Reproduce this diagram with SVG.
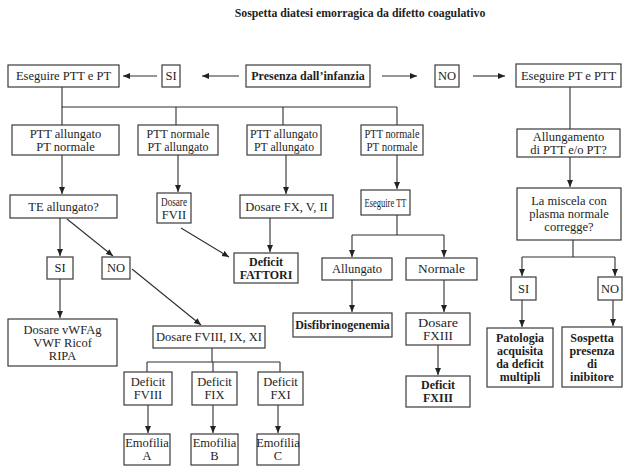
<svg xmlns="http://www.w3.org/2000/svg" width="623" height="468" viewBox="0 0 623 468" font-family="'Liberation Serif', Tinos, 'DejaVu Serif', serif">
<style>
.box{fill:#fff;stroke:#3a3a3a;stroke-width:1.2}
.t{font-family:'Liberation Serif', Tinos, 'DejaVu Serif', serif;font-size:12.5px;text-anchor:middle;fill:#1e1e1e}
.b{font-weight:bold;font-size:12px}
.ln{fill:none;stroke:#2e2e2e;stroke-width:1.1}
.ar{fill:none;stroke:#2e2e2e;stroke-width:1.1;marker-end:url(#ah)}
</style>
<defs>
<marker id="ah" markerUnits="userSpaceOnUse" markerWidth="8" markerHeight="7" refX="7" refY="3" orient="auto">
<path d="M0,0 L7,3 L0,6 z" fill="#222"/>
</marker>
</defs>
<rect width="623" height="468" fill="#fff"/>
<text x="360" y="17" class="t b" style="font-size:11.8px">Sospetta diatesi emorragica da difetto coagulativo</text>

<g id="connectors">
<line class="ar" x1="157" y1="76" x2="123" y2="76"/>
<line class="ar" x1="239" y1="76" x2="202" y2="76"/>
<line class="ar" x1="382" y1="76" x2="417" y2="76"/>
<line class="ar" x1="473" y1="76" x2="505" y2="76"/>
<polyline class="ln" points="62,87 62,107 397,107"/>
<line class="ln" x1="62" y1="107" x2="62" y2="125"/>
<line class="ln" x1="176" y1="107" x2="176" y2="125"/>
<line class="ln" x1="283" y1="107" x2="283" y2="125"/>
<line class="ln" x1="397" y1="107" x2="397" y2="125"/>
<line class="ln" x1="570" y1="87" x2="570" y2="129"/>
<line class="ar" x1="62" y1="155" x2="62" y2="194"/>
<line class="ar" x1="178" y1="155" x2="178" y2="192"/>
<line class="ar" x1="286" y1="155" x2="286" y2="194"/>
<line class="ar" x1="397" y1="155" x2="397" y2="189"/>
<line class="ar" x1="570" y1="157" x2="570" y2="187"/>
<line class="ar" x1="60" y1="218" x2="60" y2="256"/>
<line class="ar" x1="67" y1="219" x2="113" y2="256"/>
<line class="ar" x1="60" y1="279" x2="60" y2="318"/>
<line class="ar" x1="132" y1="269" x2="201" y2="325"/>
<line class="ar" x1="181" y1="228" x2="229" y2="257"/>
<line class="ar" x1="270" y1="218" x2="270" y2="252"/>
<polyline class="ln" points="397,215 397,235"/>
<line class="ln" x1="352" y1="235" x2="444" y2="235"/>
<line class="ar" x1="352" y1="235" x2="352" y2="257"/>
<line class="ar" x1="444" y1="235" x2="444" y2="257"/>
<line class="ar" x1="352" y1="280" x2="352" y2="312"/>
<line class="ar" x1="444" y1="280" x2="444" y2="312"/>
<line class="ar" x1="438" y1="345" x2="438" y2="375"/>
<line class="ln" x1="573" y1="240" x2="573" y2="257"/>
<line class="ln" x1="522" y1="257" x2="615" y2="257"/>
<line class="ar" x1="522" y1="257" x2="522" y2="276"/>
<line class="ar" x1="615" y1="257" x2="615" y2="276"/>
<line class="ar" x1="522" y1="300" x2="522" y2="327"/>
<line class="ar" x1="613" y1="300" x2="613" y2="326"/>
<line class="ln" x1="212" y1="348" x2="212" y2="362"/>
<line class="ln" x1="147" y1="362" x2="280" y2="362"/>
<line class="ln" x1="147" y1="362" x2="147" y2="372"/>
<line class="ln" x1="213" y1="362" x2="213" y2="372"/>
<line class="ln" x1="280" y1="362" x2="280" y2="372"/>
<line class="ar" x1="148" y1="405" x2="148" y2="433"/>
<line class="ar" x1="213" y1="405" x2="213" y2="433"/>
<line class="ar" x1="278" y1="405" x2="278" y2="433"/>
</g>

<g id="n_ptt_pt"><rect class="box" x="8" y="65" width="111" height="22"/><text class="t" x="63.5" y="80.3">Eseguire PTT e PT</text></g>
<g id="n_si1"><rect class="box" x="162" y="65" width="18" height="22"/><text class="t" x="171" y="80.3">SI</text></g>
<g id="n_presenza"><rect class="box" x="246" y="65" width="124" height="22"/><text class="t b" x="308" y="80.3">Presenza dall’infanzia</text></g>
<g id="n_no1"><rect class="box" x="435" y="65" width="24" height="22"/><text class="t" x="447" y="80.3">NO</text></g>
<g id="n_pt_ptt"><rect class="box" x="516" y="64" width="105" height="23"/><text class="t" x="568.5" y="80.3">Eseguire PT e PTT</text></g>

<g id="n_a"><rect class="box" x="12" y="125" width="107" height="30"/><text class="t" x="65.5" y="137.8">PTT allungato</text><text class="t" x="65.5" y="150.8">PT normale</text></g>
<g id="n_b"><rect class="box" x="138" y="125" width="80" height="30"/><text class="t" x="178" y="137.8" textLength="63" lengthAdjust="spacingAndGlyphs">PTT normale</text><text class="t" x="178" y="150.8" textLength="61" lengthAdjust="spacingAndGlyphs">PT allungato</text></g>
<g id="n_c"><rect class="box" x="247" y="125" width="74" height="30"/><text class="t" x="284" y="137.8" textLength="68" lengthAdjust="spacingAndGlyphs">PTT allungato</text><text class="t" x="284" y="150.8" textLength="60" lengthAdjust="spacingAndGlyphs">PT allungato</text></g>
<g id="n_d"><rect class="box" x="361" y="125" width="62" height="30"/><text class="t" x="392" y="137.8" textLength="55" lengthAdjust="spacingAndGlyphs">PTT normale</text><text class="t" x="392" y="150.8" textLength="51" lengthAdjust="spacingAndGlyphs">PT normale</text></g>
<g id="n_e"><rect class="box" x="517" y="129" width="103" height="28"/><text class="t" x="568.5" y="140.8">Allungamento</text><text class="t" x="568.5" y="153.8">di PTT e/o PT?</text></g>

<g id="n_te"><rect class="box" x="10" y="195" width="107" height="23"/><text class="t" x="63.5" y="210.8">TE allungato?</text></g>
<g id="n_fvii"><rect class="box" x="157" y="193" width="34" height="30"/><text class="t" x="174" y="205.8" textLength="26" lengthAdjust="spacingAndGlyphs">Dosare</text><text class="t" x="174" y="218.8">FVII</text></g>
<g id="n_fx"><rect class="box" x="240" y="195" width="93" height="23"/><text class="t" x="286.5" y="210.8">Dosare FX, V, II</text></g>
<g id="n_tt"><rect class="box" x="361" y="190" width="49" height="25"/><text class="t" x="385.5" y="206.8" textLength="42" lengthAdjust="spacingAndGlyphs">Eseguire TT</text></g>
<g id="n_misc"><rect class="box" x="517" y="188" width="104" height="52"/><text class="t" x="569" y="205.3">La miscela con</text><text class="t" x="569" y="218.3">plasma normale</text><text class="t" x="569" y="231.3">corregge?</text></g>

<g id="n_si2"><rect class="box" x="47" y="257" width="26" height="22"/><text class="t" x="60" y="272.3">SI</text></g>
<g id="n_no2"><rect class="box" x="102" y="257" width="28" height="22"/><text class="t" x="116" y="272.3">NO</text></g>
<g id="n_fattori"><rect class="box" x="234" y="253" width="64" height="30"/><text class="t b" x="266" y="265.8">Deficit</text><text class="t b" x="266" y="278.8">FATTORI</text></g>
<g id="n_allungato"><rect class="box" x="322" y="258" width="70" height="22"/><text class="t" x="357" y="273.3">Allungato</text></g>
<g id="n_normale"><rect class="box" x="406" y="258" width="71" height="22"/><text class="t" x="441.5" y="273.3" textLength="47" lengthAdjust="spacingAndGlyphs">Normale</text></g>
<g id="n_si3"><rect class="box" x="511" y="277" width="25" height="23"/><text class="t" x="523.5" y="292.8">SI</text></g>
<g id="n_no3"><rect class="box" x="598" y="277" width="24" height="23"/><text class="t" x="610" y="292.8">NO</text></g>

<g id="n_vwf"><rect class="box" x="8" y="319" width="109" height="47"/><text class="t" x="62.5" y="333.8">Dosare vWFAg</text><text class="t" x="62.5" y="346.8">VWF Ricof</text><text class="t" x="62.5" y="359.8">RIPA</text></g>
<g id="n_fviii"><rect class="box" x="153" y="326" width="112" height="22"/><text class="t" x="209" y="341.3">Dosare FVIII, IX, XI</text></g>
<g id="n_disf"><rect class="box" x="293" y="313" width="99" height="24"/><text class="t b" x="342.5" y="329.2">Disfibrinogenemia</text></g>
<g id="n_fxiii"><rect class="box" x="406" y="313" width="64" height="32"/><text class="t" x="438" y="326.8" textLength="40" lengthAdjust="spacingAndGlyphs">Dosare</text><text class="t" x="438" y="339.8" textLength="30" lengthAdjust="spacingAndGlyphs">FXIII</text></g>
<g id="n_dfxiii"><rect class="box" x="406" y="376" width="64" height="31"/><text class="t b" x="438" y="389.3">Deficit</text><text class="t b" x="438" y="402.3">FXIII</text></g>
<g id="n_pat"><rect class="box" x="487" y="328" width="66" height="59"/><text class="t b" x="520" y="342.2">Patologia</text><text class="t b" x="520" y="355.2">acquisita</text><text class="t b" x="520" y="368.2">da deficit</text><text class="t b" x="520" y="381.2">multipli</text></g>
<g id="n_sosp"><rect class="box" x="562" y="327" width="60" height="60"/><text class="t b" x="592" y="341.7">Sospetta</text><text class="t b" x="592" y="354.7">presenza</text><text class="t b" x="592" y="367.7">di</text><text class="t b" x="592" y="380.7">inibitore</text></g>

<g id="n_def8"><rect class="box" x="124" y="372" width="48" height="33"/><text class="t" x="148" y="386.3">Deficit</text><text class="t" x="148" y="399.3">FVIII</text></g>
<g id="n_def9"><rect class="box" x="192" y="372" width="45" height="33"/><text class="t" x="214.5" y="386.3">Deficit</text><text class="t" x="214.5" y="399.3">FIX</text></g>
<g id="n_def11"><rect class="box" x="258" y="372" width="45" height="33"/><text class="t" x="280.5" y="386.3">Deficit</text><text class="t" x="280.5" y="399.3">FXI</text></g>
<g id="n_emoa"><rect class="box" x="124" y="434" width="46" height="31"/><text class="t" x="147" y="447.3">Emofilia</text><text class="t" x="147" y="460.3">A</text></g>
<g id="n_emob"><rect class="box" x="191" y="434" width="47" height="31"/><text class="t" x="214.5" y="447.3">Emofilia</text><text class="t" x="214.5" y="460.3">B</text></g>
<g id="n_emoc"><rect class="box" x="257" y="434" width="42" height="31"/><text class="t" x="278" y="447.3">Emofilia</text><text class="t" x="278" y="460.3">C</text></g>
</svg>
